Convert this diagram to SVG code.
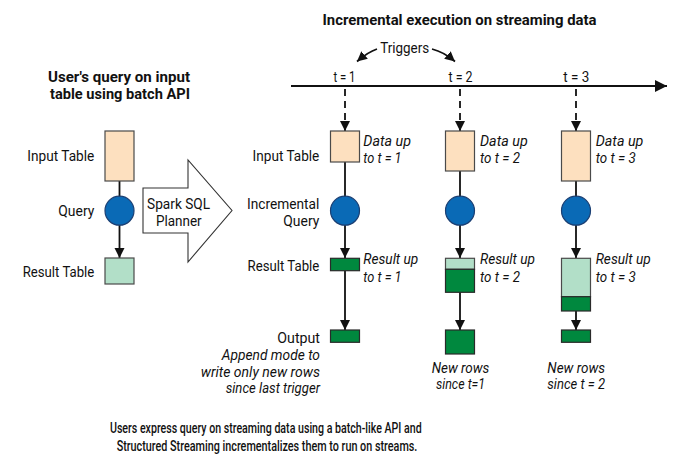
<svg xmlns="http://www.w3.org/2000/svg" width="675" height="459" viewBox="0 0 675 459">
  <style>
    text { font-family: Roboto, "Liberation Sans", Arial, sans-serif; font-size: 15px; fill: #111; }
    .b { font-weight: bold; }
    .c { font-weight: 500; font-size: 15.5px; }
    .i { font-style: italic; }
    .r { text-anchor: end; }
    .m { text-anchor: middle; }
    .s { font-size: 14px; }
    .in { fill: #fde0bf; stroke: #4a4a4a; stroke-width: 1.2; }
    .q { fill: #0a6ab6; stroke: #1b3f73; stroke-width: 1.2; }
    .lt { fill: #b2dfc8; stroke: #4a4a4a; stroke-width: 1.2; }
    .dk { fill: #00883e; stroke: #2a2a2a; stroke-width: 1.2; }
    .ln { stroke: #111; stroke-width: 1.8; fill: none; }
    .dash { stroke-dasharray: 7 5; }
  </style>
  <defs>
    <marker id="head" markerUnits="userSpaceOnUse" markerWidth="11" markerHeight="11" refX="10" refY="5" orient="auto">
      <path d="M0,0 L10,5 L0,10 Z" fill="#111"/>
    </marker>
    <marker id="bighead" markerUnits="userSpaceOnUse" markerWidth="13" markerHeight="13" refX="12" refY="6" orient="auto">
      <path d="M0,0 L12,6 L0,12 Z" fill="#111"/>
    </marker>
  </defs>

  <!-- headings -->
  <text class="b m" x="459.5" y="25" textLength="274" lengthAdjust="spacingAndGlyphs">Incremental execution on streaming data</text>
  <text class="b m s" x="119" y="82" textLength="142" lengthAdjust="spacingAndGlyphs">User's query on input</text>
  <text class="b m s" x="120" y="98.6" textLength="140" lengthAdjust="spacingAndGlyphs">table using batch API</text>

  <!-- timeline labels -->
  <text class="m" x="404.7" y="53.3" textLength="49" lengthAdjust="spacingAndGlyphs">Triggers</text>
  <text class="m" x="344.5" y="81.7" textLength="22" lengthAdjust="spacingAndGlyphs">t = 1</text>
  <text class="m" x="460.5" y="81.7" textLength="24" lengthAdjust="spacingAndGlyphs">t = 2</text>
  <text class="m" x="576.3" y="81.7" textLength="26" lengthAdjust="spacingAndGlyphs">t = 3</text>

  <!-- row labels -->
  <text class="r" x="94.3" y="160.7" textLength="67" lengthAdjust="spacingAndGlyphs">Input Table</text>
  <text class="r" x="94.3" y="215.5" textLength="36" lengthAdjust="spacingAndGlyphs">Query</text>
  <text class="r" x="94.3" y="276.5" textLength="71.6" lengthAdjust="spacingAndGlyphs">Result Table</text>
  <text class="r" x="319.3" y="160.7" textLength="66.7" lengthAdjust="spacingAndGlyphs">Input Table</text>
  <text class="r" x="319.3" y="208.5" textLength="72.3" lengthAdjust="spacingAndGlyphs">Incremental</text>
  <text class="r" x="319.3" y="225.5" textLength="36" lengthAdjust="spacingAndGlyphs">Query</text>
  <text class="r" x="319.3" y="271" textLength="71.7" lengthAdjust="spacingAndGlyphs">Result Table</text>
  <text class="r" x="320" y="342.7" textLength="42.7" lengthAdjust="spacingAndGlyphs">Output</text>
  <text class="r i" x="320" y="360" textLength="98.3" lengthAdjust="spacingAndGlyphs">Append mode to</text>
  <text class="r i" x="320" y="376.7" textLength="119.3" lengthAdjust="spacingAndGlyphs">write only new rows</text>
  <text class="r i" x="320" y="393.3" textLength="94.3" lengthAdjust="spacingAndGlyphs">since last trigger</text>

  <!-- connectors -->
  <g id="connectors">
    <line class="ln" x1="291" y1="86" x2="667" y2="86" marker-end="url(#bighead)"/>
    <path class="ln" d="M377,49 Q368,52 357,61.5" marker-end="url(#head)"/>
    <path class="ln" d="M432,49 Q444,52 455,61.5" marker-end="url(#head)"/>
    <line class="ln dash" x1="345" y1="89" x2="345" y2="131" marker-end="url(#head)"/>
    <line class="ln dash" x1="460" y1="89" x2="460" y2="131" marker-end="url(#head)"/>
    <line class="ln dash" x1="576" y1="89" x2="576" y2="131" marker-end="url(#head)"/>

    <line class="ln" x1="119.5" y1="181" x2="119.5" y2="197"/>
    <line class="ln" x1="119.5" y1="224" x2="119.5" y2="258" marker-end="url(#head)"/>

    <line class="ln" x1="345" y1="162" x2="345" y2="197"/>
    <line class="ln" x1="345" y1="224" x2="345" y2="258" marker-end="url(#head)"/>
    <line class="ln" x1="345" y1="271" x2="345" y2="330" marker-end="url(#head)"/>

    <line class="ln" x1="460" y1="171" x2="460" y2="197"/>
    <line class="ln" x1="460" y1="224" x2="460" y2="258" marker-end="url(#head)"/>
    <line class="ln" x1="460" y1="292" x2="460" y2="330" marker-end="url(#head)"/>

    <line class="ln" x1="576" y1="181" x2="576" y2="197"/>
    <line class="ln" x1="576" y1="224" x2="576" y2="258" marker-end="url(#head)"/>
    <line class="ln" x1="576" y1="311" x2="576" y2="330" marker-end="url(#head)"/>
  </g>

  <!-- batch query -->
  <g id="batch-input"><rect class="in" x="105" y="131" width="29" height="50"/></g>
  <g id="batch-query"><circle class="q" cx="119.5" cy="210.7" r="14.5"/></g>
  <g id="batch-result"><rect class="lt" x="105" y="258" width="29" height="26"/></g>

  <!-- planner arrow -->
  <g id="planner">
    <polygon points="143,188 188,188 188,160 232,210.5 188,262 188,233 143,233" fill="#fff" stroke="#333" stroke-width="1.1"/>
    <text class="m s" x="178.6" y="209" textLength="63" lengthAdjust="spacingAndGlyphs">Spark SQL</text>
    <text class="m s" x="178.8" y="226" textLength="45.7" lengthAdjust="spacingAndGlyphs">Planner</text>
  </g>

  <!-- trigger t = 1 -->
  <g id="input-t1">
    <rect class="in" x="330.5" y="131" width="29" height="31"/>
    <text class="i" x="363.3" y="146" textLength="47.7" lengthAdjust="spacingAndGlyphs">Data up</text>
    <text class="i" x="363.3" y="162.7" textLength="38.3" lengthAdjust="spacingAndGlyphs">to t = 1</text>
  </g>
  <g id="query-t1"><circle class="q" cx="345" cy="210.7" r="14.5"/></g>
  <g id="result-t1">
    <rect class="dk" x="330.5" y="258.3" width="29" height="12.4"/>
    <text class="i" x="363.3" y="264.3" textLength="55" lengthAdjust="spacingAndGlyphs">Result up</text>
    <text class="i" x="363.3" y="281.7" textLength="38.3" lengthAdjust="spacingAndGlyphs">to t = 1</text>
  </g>
  <g id="output-t1"><rect class="dk" x="330.5" y="330" width="29" height="12.3"/></g>

  <!-- trigger t = 2 -->
  <g id="input-t2">
    <rect class="in" x="445.5" y="131" width="29" height="40"/>
    <text class="i" x="480" y="146" textLength="47.7" lengthAdjust="spacingAndGlyphs">Data up</text>
    <text class="i" x="480" y="162.7" textLength="40" lengthAdjust="spacingAndGlyphs">to t = 2</text>
  </g>
  <g id="query-t2"><circle class="q" cx="460" cy="210.7" r="14.5"/></g>
  <g id="result-t2">
    <rect class="lt" x="445.5" y="258.3" width="29" height="11"/>
    <rect class="dk" x="445.5" y="269.3" width="29" height="23"/>
    <text class="i" x="480" y="264.3" textLength="55" lengthAdjust="spacingAndGlyphs">Result up</text>
    <text class="i" x="480" y="281.7" textLength="40" lengthAdjust="spacingAndGlyphs">to t = 2</text>
  </g>
  <g id="output-t2">
    <rect class="dk" x="445.5" y="330" width="29" height="24"/>
    <text class="i m" x="460.5" y="372.7" textLength="57.7" lengthAdjust="spacingAndGlyphs">New rows</text>
    <text class="i m" x="460.5" y="389.3" textLength="49" lengthAdjust="spacingAndGlyphs">since t=1</text>
  </g>

  <!-- trigger t = 3 -->
  <g id="input-t3">
    <rect class="in" x="561.5" y="131" width="29" height="50"/>
    <text class="i" x="595.7" y="146" textLength="47.7" lengthAdjust="spacingAndGlyphs">Data up</text>
    <text class="i" x="595.7" y="162.7" textLength="40" lengthAdjust="spacingAndGlyphs">to t = 3</text>
  </g>
  <g id="query-t3"><circle class="q" cx="576" cy="210.7" r="14.5"/></g>
  <g id="result-t3">
    <rect class="lt" x="561.5" y="258.3" width="29" height="38.4"/>
    <rect class="dk" x="561.5" y="296.7" width="29" height="14.3"/>
    <text class="i" x="595.7" y="264.3" textLength="55" lengthAdjust="spacingAndGlyphs">Result up</text>
    <text class="i" x="595.7" y="281.7" textLength="40" lengthAdjust="spacingAndGlyphs">to t = 3</text>
  </g>
  <g id="output-t3">
    <rect class="dk" x="561.5" y="330" width="29" height="12.3"/>
    <text class="i m" x="576.2" y="372.7" textLength="57.7" lengthAdjust="spacingAndGlyphs">New rows</text>
    <text class="i m" x="576.2" y="389.3" textLength="57.7" lengthAdjust="spacingAndGlyphs">since t = 2</text>
  </g>

  <!-- caption -->
  <text class="m c" x="265.8" y="432.7" textLength="311.7" lengthAdjust="spacingAndGlyphs">Users express query on streaming data using a batch-like API and</text>
  <text class="m c" x="267" y="450.6" textLength="300.7" lengthAdjust="spacingAndGlyphs">Structured Streaming incrementalizes them to run on streams.</text>
</svg>
